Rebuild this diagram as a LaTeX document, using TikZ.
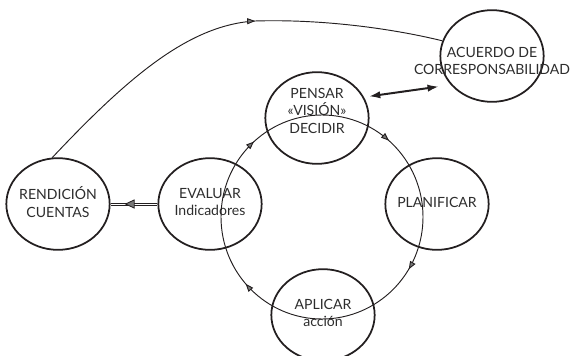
\documentclass[tikz,border=0pt]{standalone}
\usepackage{fontspec}
\setmainfont{Lato}
\usetikzlibrary{arrows.meta,shapes.geometric,decorations.markings}
\definecolor{ciline}{RGB}{35,31,32}
\definecolor{citext}{RGB}{45,45,45}
\definecolor{citip}{RGB}{120,120,120}

\begin{document}
\begin{tikzpicture}[x=0.03cm,y=0.03cm,line width=0.8pt,ciline,
  ctip/.tip={Triangle[length=2.4mm,width=1.8mm,color=ciline,fill=citip]},
  stage/.style={draw,ellipse,line width=1.5pt,minimum width=3.1cm,minimum height=2.75cm,inner sep=0pt},
  txt/.style={text=citext,font=\fontsize{12}{15}\selectfont,align=center},
  midtip/.style={draw,fill=citip,line width=0.7pt,isosceles triangle,isosceles triangle apex angle=50,
    shape border rotate=180,inner sep=0pt,minimum height=2.6mm}]
  \useasboundingbox (0,0) rectangle (571,355);
  % stages
  \node[stage,label={[txt,yshift=0.06cm]center:RENDICIÓN\\CUENTAS}] (rend) at (58,151) {};
  \node[stage,label={[txt,yshift=0.06cm]center:EVALUAR\\Indicadores}] (evalu) at (210,151) {};
  \node[stage,label={[txt,yshift=0.05cm]center:PLANIFICAR}] (plan) at (437,151) {};
  \node[stage,label={[txt,yshift=0.22cm]center:PENSAR\\«VISIÓN»\\DECIDIR}] (pensar) at (317,237) {};
  \node[stage,label={[txt,yshift=-0.15cm]center:ACUERDO DE\\CORRESPONSABILIDAD}] (acuerdo) at (492,299) {};
  \node[stage,label={[txt,yshift=0.06cm]center:APLICAR\\acción}] (aplic) at (323,40) {};
  % cycle
  \coordinate (cyc) at (322,138);
  \draw[postaction={decorate},decoration={markings,
    mark=at position 0.135 with {\arrowreversed{ctip}},
    mark=at position 0.367 with {\arrowreversed{ctip}},
    mark=at position 0.614 with {\arrowreversed{ctip}},
    mark=at position 0.914 with {\arrowreversed{ctip}}}]
    (cyc) circle[x radius=101,y radius=102];
  % links
  \draw[line width=1.7pt,{Latex[length=3.4mm,width=2.2mm]}-{Latex[length=3.4mm,width=2.2mm]},
    shorten <=0.15cm,shorten >=0.36cm] (pensar.24) -- (acuerdo.215);
  \draw[line width=0.7pt] ([yshift=0.9pt]evalu.west) -- ([yshift=0.9pt]rend.east);
  \draw[line width=0.7pt] ([yshift=-0.9pt]evalu.west) -- ([yshift=-0.9pt]rend.east);
  \draw[postaction={decorate},decoration={markings,mark=at position 0.57 with {\arrow{ctip}}}]
    (rend.97) .. controls (130,280) and (190,330) .. (255,334)
    .. controls (320,336) and (390,327) .. (acuerdo.163);
  \path (evalu.west) -- (rend.east) node[midtip,pos=0.55] (etip) {};
\end{tikzpicture}
\end{document}
